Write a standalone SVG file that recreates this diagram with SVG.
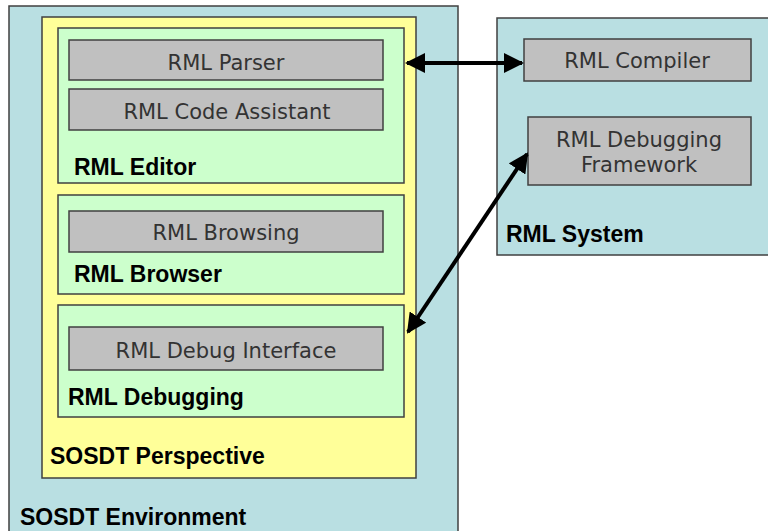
<svg xmlns="http://www.w3.org/2000/svg" width="768" height="531" viewBox="0 0 768 531">
<defs>
<style>
.env{fill:#b9dfe2;stroke:#404040;stroke-width:1.5}
.persp{fill:#ffff99;stroke:#404040;stroke-width:1.5}
.grp{fill:#ccffcc;stroke:#404040;stroke-width:1.5}
.box{fill:#c0c0c0;stroke:#404040;stroke-width:1.5}
.t{font-family:"DejaVu Sans",sans-serif;font-size:21px;fill:#333;text-anchor:middle}
.b{font-family:"Liberation Sans",Arial,sans-serif;font-size:23px;font-weight:bold;fill:#000}
.c{stroke:#000;stroke-width:4;fill:none}
</style>
<marker id="ah" viewBox="0 0 10 10" refX="9" refY="5" markerWidth="5" markerHeight="5" orient="auto-start-reverse" markerUnits="strokeWidth">
<path d="M0,0 L10,5 L0,10 z" fill="#000"/>
</marker>
</defs>
<rect width="768" height="531" fill="#fff"/>
<g id="sosdt-environment">
<rect class="env" x="9" y="6" width="449" height="540"/>
<text class="b" x="20" y="525">SOSDT Environment</text>
</g>
<g id="sosdt-perspective">
<rect class="persp" x="42" y="17" width="374" height="461"/>
<text class="b" x="50" y="464">SOSDT Perspective</text>
</g>
<g id="rml-editor">
<rect class="grp" x="58" y="28" width="346" height="155"/>
<text class="b" x="74" y="175">RML Editor</text>
</g>
<g id="rml-parser">
<rect class="box" x="69" y="40" width="314" height="40"/>
<text class="t" x="226" y="70">RML Parser</text>
</g>
<g id="rml-code-assistant">
<rect class="box" x="69" y="89" width="314" height="41"/>
<text class="t" x="227" y="119">RML Code Assistant</text>
</g>
<g id="rml-browser">
<rect class="grp" x="58" y="195" width="346" height="99"/>
<text class="b" x="74" y="282">RML Browser</text>
</g>
<g id="rml-browsing">
<rect class="box" x="69" y="211" width="314" height="41"/>
<text class="t" x="226" y="240">RML Browsing</text>
</g>
<g id="rml-debugging">
<rect class="grp" x="58" y="305" width="346" height="112"/>
<text class="b" x="68" y="405">RML Debugging</text>
</g>
<g id="rml-debug-interface">
<rect class="box" x="69" y="327" width="314" height="43"/>
<text class="t" x="226" y="358">RML Debug Interface</text>
</g>
<g id="rml-system">
<rect class="env" x="497" y="18" width="280" height="237"/>
<text class="b" x="506" y="242">RML System</text>
</g>
<g id="rml-compiler">
<rect class="box" x="524" y="39" width="227" height="42"/>
<text class="t" x="637" y="68">RML Compiler</text>
</g>
<g id="rml-debugging-framework">
<rect class="box" x="528" y="117" width="223" height="68"/>
<text class="t" x="639" y="147">RML Debugging</text>
<text class="t" x="639" y="172">Framework</text>
</g>
<g id="connectors">
<line class="c" x1="407" y1="63" x2="522" y2="63" marker-start="url(#ah)" marker-end="url(#ah)"/>
<line class="c" x1="408" y1="332" x2="527" y2="154" marker-start="url(#ah)" marker-end="url(#ah)"/>
</g>
</svg>
